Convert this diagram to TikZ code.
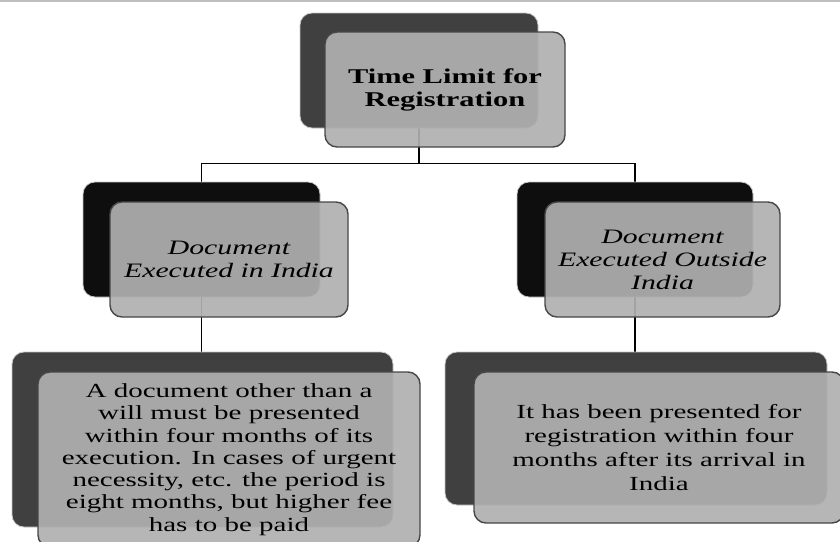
\documentclass[tikz,border=0pt]{standalone}
\usepackage{fontspec}
\setmainfont{Liberation Serif}[FakeStretch=1.45]
\usetikzlibrary{positioning, backgrounds}
\definecolor{cardgray}{RGB}{176,176,176}
\definecolor{backgray}{RGB}{64,64,64}
\definecolor{backblack}{RGB}{14,14,14}

\begin{document}
\begin{tikzpicture}[
    x=1pt, y=-1pt,
    thick,
    backcard/.style={draw=black!22, line width=0.8pt, rectangle, rounded corners=12pt, fill=#1},
    frontcard/.style={draw=black!72, line width=1.4pt, rectangle, rounded corners=12pt, fill=cardgray, fill opacity=0.92, text opacity=1, align=center, font=\fontsize{20}{23}\selectfont},
    link/.style={draw=black, line width=1.3pt}
]
    \useasboundingbox (0,0) rectangle (840,541);
    \clip (0,0) rectangle (840,541);

    % --- top edge ---
    \draw[black!25, line width=2pt] (0,1) -- (840,1);

    % --- Root ---
    \node[backcard=backgray, minimum width=238pt, minimum height=115pt] (rootback) at (419,70.5) {};
    \node[frontcard, minimum width=240pt, minimum height=115pt, font=\fontsize{21}{23}\selectfont\bfseries] (root) at (445,89.5) {Time Limit for\\Registration};

    % --- Second level ---
    \node[backcard=backblack, minimum width=237pt, minimum height=115pt] (indiaback) at (201.5,239.5) {};
    \node[frontcard, minimum width=238pt, minimum height=115pt, font=\fontsize{20.5}{23}\selectfont\itshape] (india) at (229,259.5) {Document\\Executed in India};

    \node[backcard=backblack, minimum width=236pt, minimum height=115pt] (outsideback) at (635,239.5) {};
    \node[frontcard, minimum width=235pt, minimum height=115pt, font=\fontsize{20.5}{23}\selectfont\itshape] (outside) at (662.5,259.5) {Document\\Executed Outside\\India};

    % --- Third level ---
    \node[backcard=backgray, minimum width=381pt, minimum height=175pt] (indiaruleback) at (202.5,439.5) {};
    \node[frontcard, minimum width=382pt, minimum height=175pt, font=\fontsize{20}{22.3}\selectfont] (indiarule) at (229,459.5) {A document other than a\\will must be presented\\within four months of its\\execution. In cases of urgent\\necessity, etc. the period is\\eight months, but higher fee\\has to be paid};

    \node[backcard=backgray, minimum width=382pt, minimum height=153pt] (outsideruleback) at (636,428.5) {};
    \node[frontcard, minimum width=370pt, minimum height=151pt, font=\fontsize{20}{24}\selectfont] (outsiderule) at (659,447.5) {It has been presented for\\registration within four\\months after its arrival in\\India};

    % --- Connectors ---
    \begin{scope}[on background layer]
        \draw[link] (rootback.south) -- ++(0,35) -| (indiaback.north);
        \draw[link] (rootback.south) -- ++(0,35) -| (outsideback.north);
        \draw[link] (indiaback.south) -- (indiaback.south |- indiaruleback.north);
        \draw[link] (outsideback.south) -- (outsideback.south |- outsideruleback.north);
    \end{scope}

\end{tikzpicture}
\end{document}
